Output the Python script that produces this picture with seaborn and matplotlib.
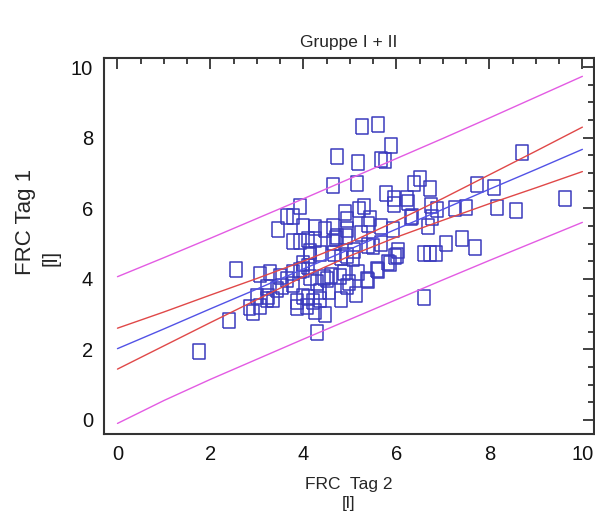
import numpy as np
import pandas as pd
import matplotlib
matplotlib.use("Agg")
import matplotlib.pyplot as plt
import seaborn as sns
from matplotlib.ticker import MultipleLocator

# ---- data ----
frc_tag2 = [5.26, 5.60, 5.88, 4.72, 5.17, 5.67, 5.75, 4.63, 5.15, 5.78,
            5.95, 6.23, 6.38, 6.51, 6.72, 6.75, 3.92, 7.74, 8.10, 8.71,
            9.63, 8.17, 8.58, 7.41, 7.26, 7.50, 6.88, 6.77, 6.31, 6.68,
            7.07, 7.69, 6.59, 6.72, 6.85, 6.59, 4.29, 4.46, 2.54, 2.39,
            1.75, 3.45, 3.64, 3.77, 3.99, 4.25, 3.77, 3.92, 4.09, 4.25,
            4.14, 4.63, 4.72, 4.94, 4.63, 3.06, 3.28, 3.49, 3.64, 3.77,
            3.99, 4.09, 3.53, 3.00, 3.21, 2.84, 2.91, 3.06, 3.23, 3.86,
            3.86, 4.07, 3.99, 4.35, 4.29, 4.50, 4.78, 4.94, 3.77, 4.81,
            5.13, 4.98, 4.59, 4.87, 5.17, 5.39, 5.60, 5.86, 5.06, 4.94,
            4.81, 4.66, 4.35, 3.99, 5.09, 5.39, 5.50, 5.67, 6.03, 6.01,
            4.70, 4.91, 5.24, 5.39, 5.67, 5.93, 4.94, 5.43, 5.19, 5.30,
            5.95, 6.25, 6.34, 4.46, 4.09, 4.20, 4.55, 4.35, 4.44, 4.14,
            3.92, 4.25, 4.14, 3.21, 3.34, 3.43, 4.89, 5.82, 5.37, 5.58,
            5.97]
frc_tag1 = [8.32, 8.38, 7.78, 7.47, 7.30, 7.39, 7.36, 6.65, 6.70, 6.42,
            6.28, 6.28, 6.70, 6.85, 6.56, 6.08, 6.05, 6.68, 6.59, 7.59,
            6.28, 6.02, 5.94, 5.14, 5.99, 6.02, 5.97, 5.74, 5.74, 5.48,
            5.00, 4.89, 4.72, 4.72, 4.72, 3.47, 2.47, 2.98, 4.26, 2.81,
            1.93, 5.40, 5.77, 5.77, 5.48, 5.45, 5.06, 5.06, 5.11, 5.11,
            4.77, 5.48, 5.20, 5.40, 5.03, 4.12, 4.18, 4.06, 3.98, 4.18,
            4.26, 4.35, 3.78, 3.49, 3.41, 3.18, 3.04, 3.21, 3.49, 3.35,
            3.18, 3.21, 3.49, 3.41, 3.89, 3.98, 4.06, 3.78, 3.84, 3.41,
            3.55, 3.89, 4.09, 4.18, 4.18, 3.95, 4.23, 4.43, 4.57, 4.66,
            4.60, 4.72, 4.72, 4.43, 4.80, 4.94, 4.91, 5.00, 4.80, 4.66,
            5.14, 5.20, 5.28, 5.54, 5.48, 5.40, 5.68, 5.71, 5.97, 6.05,
            6.11, 6.16, 5.77, 5.40, 3.47, 3.35, 3.64, 3.64, 4.03, 4.03,
            4.23, 3.07, 4.66, 3.75, 3.41, 3.69, 5.88, 4.46, 3.98, 4.26,
            4.63]

line_x = [0, 1, 2, 3, 4, 5, 6, 7, 8, 9, 10]
fit_line = [2.02, 2.58, 3.15, 3.71, 4.28, 4.84, 5.41, 5.97, 6.54, 7.10, 7.67]
conf_upper = [2.60, 3.06, 3.54, 4.01, 4.50, 5.03, 5.64, 6.28, 6.95, 7.62, 8.30]
conf_lower = [1.44, 2.10, 2.76, 3.41, 4.06, 4.65, 5.18, 5.66, 6.13, 6.58, 7.04]
pred_upper = [4.06, 4.60, 5.15, 5.71, 6.27, 6.84, 7.41, 7.98, 8.56, 9.15, 9.74]
pred_lower = [-0.10, 0.55, 1.15, 1.72, 2.29, 2.85, 3.41, 3.97, 4.52, 5.06, 5.60]

title = "Gruppe I + II"
x_label = "FRC  Tag 2\n[l]"
y_label = "FRC Tag 1"
y_unit = "[l]"

# ---- styling ----
sns.set_style("white")
plt.rcParams['font.family'] = ['Liberation Sans', 'DejaVu Sans']

fig = plt.figure(figsize=(5.95, 5.13), dpi=100)
ax = fig.add_axes([104 / 595, 1 - 434 / 513, (594 - 104) / 595, (434 - 58) / 513])

pts = pd.DataFrame({"x": frc_tag2, "y": frc_tag1})
lines = pd.DataFrame({"x": line_x, "fit": fit_line, "cu": conf_upper,
                      "cl": conf_lower, "pu": pred_upper, "pl": pred_lower})

rect = [(-0.8, -1), (0.8, -1), (0.8, 1), (-0.8, 1), (-0.8, -1)]
sns.scatterplot(data=pts, x="x", y="y", ax=ax, marker=rect, s=115,
                facecolors="none", edgecolor="#3b3bbd", linewidth=1.1, zorder=2)

magenta = "#e35be3"
red = "#e04848"
blue = "#5252e6"
for col, c in [("pu", magenta), ("pl", magenta), ("cu", red), ("cl", red), ("fit", blue)]:
    sns.lineplot(data=lines, x="x", y=col, ax=ax, color=c, lw=1.0, zorder=3)

ax.set_xlim(-0.29, 10.25)
ax.set_ylim(-0.40, 10.26)
ax.xaxis.set_major_locator(MultipleLocator(2))
ax.xaxis.set_minor_locator(MultipleLocator(0.5))
ax.yaxis.set_major_locator(MultipleLocator(2))
ax.yaxis.set_minor_locator(MultipleLocator(0.5))
ax.tick_params(which="both", direction="in", top=True, right=True,
               color="#333333", width=1.3)
ax.tick_params(which="major", length=8, labelsize=14.5, pad=8, labelcolor="#111111")
ax.tick_params(which="minor", length=4.5)
for sp in ax.spines.values():
    sp.set_color("#333333")
    sp.set_linewidth(1.5)

ax.set_xlabel(x_label, fontsize=12.5, labelpad=9, linespacing=1.35)
ax.set_ylabel(y_label, fontsize=16)
ax.yaxis.set_label_coords(-0.139, 0.564)
ax.text(-0.108, 0.468, y_unit, transform=ax.transAxes, rotation=90,
        fontsize=15, ha="center", va="center")
ax.set_title(title, fontsize=12.5, pad=8)

fig.savefig("out.png", dpi=100, facecolor="white")
